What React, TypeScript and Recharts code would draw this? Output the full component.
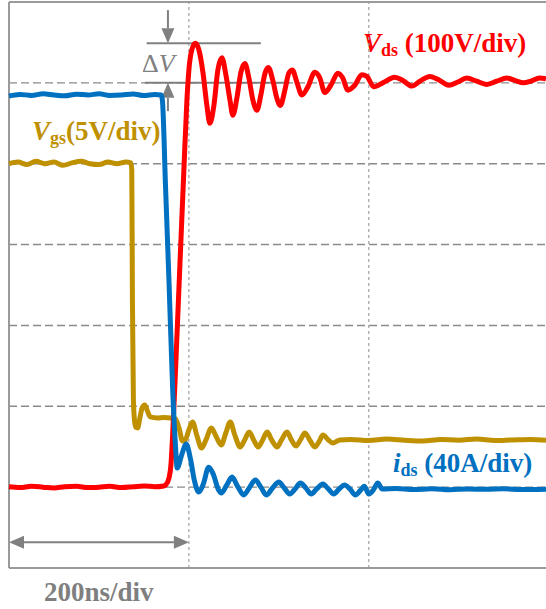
import { Line, LineChart, ReferenceLine, XAxis, YAxis } from "recharts";

// time axis in ns (200 ns/div)
const timeGrid = [200, 400];

// Vds (V), 100 V/div
const vdsTime = [
  0, 12, 25, 38, 50, 62, 75, 88, 100, 112, 125, 138, 150, 162, 172, 174.4, 177.8, 180, 182.2, 185.6, 190, 194.4,
  197.8, 200, 203.3, 207.2, 211.1, 215.6, 220, 223.3, 227.8, 232.2, 236.7, 241.1, 245.6, 248.9, 253.3, 257.8, 262.2,
  266.7, 271.1, 275.6, 280, 284.4, 288.3, 293.3, 297.8, 301.7, 306.7, 311.1, 315, 320, 325.6, 332.2, 340, 345.6, 351.1,
  357.8, 365.6, 371.1, 376.7, 384.4, 392.2, 397.8, 405.6, 415.6, 428.9, 437.8, 447.8, 456.7, 467.8, 478.9, 488.9,
  498.9, 508.9, 520, 531.1, 542.2, 553.3, 562.2, 572.2, 580, 590, 597,
];
const vdsValue = [
  0.5, -0.5, 1, 0, -1, 0.5, 1, -0.5, 0, 1, -0.5, 0.5, 1.5, 0.5, 1.5, 3, 11, 27, 71, 157, 275, 392,
  479, 516, 541, 549, 541, 513, 472, 450, 472, 516, 531, 510, 479, 460, 481, 513, 524,
  506, 479, 466, 485, 511, 519, 503, 481, 472, 491, 512, 516, 501, 485, 495, 513, 506, 488,
  497, 512, 506, 491, 497, 510, 508, 495, 500, 507, 503, 496, 502, 508, 503, 497,
  501, 506, 502, 498, 502, 506, 503, 500, 502, 506, 505,
];

// Vgs (V), 5 V/div
const vgsTime = [
  0, 10, 20, 30, 40, 50, 60, 70, 80, 90, 100, 110, 120, 130, 135.5, 136.5, 137.2, 138.3, 139.5, 141, 143, 145.5, 148,
  151, 153.5, 157, 165, 172, 180, 185, 189, 193, 196, 200, 204, 209, 214, 219, 225, 230, 236, 241, 246, 251, 257, 262,
  267, 272, 277, 282, 287, 292, 298, 303, 309, 314, 319, 324, 329, 335, 340, 345, 349, 355, 360, 368, 380, 400, 420,
  440, 460, 480, 500, 520, 540, 560, 580, 597,
];
const vgsValue = [
  15.0, 15.1, 14.95, 15.15, 15.0, 15.1, 14.9, 15.05, 15.15, 15.0, 14.95, 15.1, 15.0, 15.1, 15.05, 14.6, 6.6, 0.4, -0.85,
  -1.3, -1.34, -0.72, -0.1, 0.08, -0.23, -0.66, -0.72, -0.69, -0.72, -0.78, -1.34, -2.15, -2.08, -1.46, -0.97, -1.84,
  -2.58, -2.08, -1.34, -1.84, -2.39, -1.65, -0.97, -1.77, -2.52, -2.08, -1.59, -2.08, -2.52, -2.08, -1.59, -2.08, -2.52,
  -2.08, -1.59, -2.08, -2.45, -2.08, -1.65, -2.15, -2.52, -2.15, -1.77, -2.08, -2.27, -2.08, -2.05, -2.12, -2.02, -2.1,
  -2.15, -2.05, -2.1, -2.02, -2.12, -2.08, -2.05, -2.1,
];

// ids (A), 40 A/div
const idsTime = [
  0, 12, 25, 38, 50, 62, 75, 88, 100, 112, 125, 138, 150, 162, 169, 170.5, 174, 178, 182, 185, 187, 192, 197, 202, 206,
  211, 216, 222, 227, 233, 236, 242, 248, 254, 261, 267, 274, 280, 286, 293, 300, 306, 312, 318, 324, 330, 336, 342,
  349, 355, 361, 367, 373, 379, 385, 391, 395, 400, 405, 410, 415, 430, 450, 470, 490, 510, 530, 550, 570, 597,
];
const idsValue = [
  193.5, 194.3, 193.8, 194.6, 194, 193.6, 194.4, 194, 194.6, 193.8, 194, 194.5, 193.7, 194.3, 194, 191.5, 149, 100, 48,
  21, 9.5, 16, 21.3, 13.4, 3.5, -2.4, 1.5, 9.9, 6.5, -1.4, -2.9, 1.0, 5.0, 0.5, -3.9, -0.4, 3.5, 0, -3.9, -0.4, 2.5,
  -0.4, -3.4, -0.9, 2.0, -0.4, -3.4, -0.9, 1.5, -0.9, -3.4, -0.9, 1.0, -0.9, -3.9, -1.4, 0.5, -3.4, -1.4, 2.0, -0.9,
  -0.7, -1.2, -0.8, -1.3, -0.9, -1.1, -0.8, -1.2, -1.0,
];

const vdsGrid = [0, 100, 200, 300, 400, 500];
const vdsMin = -100;
const vdsMax = 600;
const vdsPeak = 549;
const vdsSteady = 500;

const vdsData = vdsTime.map((t, i) => ({ t, v: vdsValue[i] }));
const vgsData = vgsTime.map((t, i) => ({ t, v: vgsValue[i] }));
const idsData = idsTime.map((t, i) => ({ t, v: idsValue[i] }));

const RED = "#ff0000";
const BLUE = "#0070c0";
const GOLD = "#bf9000";
const GRAY = "#808080";
const FRAME = "#9a9a9a";
const FONT = "'Liberation Serif', 'Times New Roman', serif";

const ArrowShape = (props: any) => {
  const { x1, y1, x2, y2, both } = props;
  const dx = x2 - x1;
  const dy = y2 - y1;
  const len = Math.sqrt(dx * dx + dy * dy) || 1;
  const ux = dx / len;
  const uy = dy / len;
  const hl = 15;
  const hw = 6.5;
  const head = (tx: number, ty: number, sx: number, sy: number) => {
    const bx = tx - sx * hl;
    const by = ty - sy * hl;
    return `${tx},${ty} ${bx - sy * hw},${by + sx * hw} ${bx + sy * hw},${by - sx * hw}`;
  };
  return (
    <g>
      <line
        x1={both ? x1 + ux * hl : x1}
        y1={both ? y1 + uy * hl : y1}
        x2={x2 - ux * hl}
        y2={y2 - uy * hl}
        stroke={GRAY}
        strokeWidth={2}
      />
      <polygon points={head(x2, y2, ux, uy)} fill={GRAY} />
      {both && <polygon points={head(x1, y1, -ux, -uy)} fill={GRAY} />}
    </g>
  );
};

const App = () => {
  return (
    <div style={{ position: "absolute", left: 0, top: 0, width: 546, height: 609, background: "#fff" }}>
      <LineChart width={546} height={609} margin={{ top: 2, right: 0, left: 9, bottom: 41 }}>
        <XAxis dataKey="t" type="number" domain={[0, 597]} hide />
        <YAxis yAxisId="vds" type="number" domain={[vdsMin, vdsMax]} hide />
        <YAxis yAxisId="vgs" type="number" domain={[-10, 25]} hide />
        <YAxis yAxisId="ids" type="number" domain={[-40, 240]} hide />

        {vdsGrid.map((v) => (
          <ReferenceLine key={`h${v}`} yAxisId="vds" y={v} stroke="#8a8a8a" strokeWidth={1.4} strokeDasharray="8 4" />
        ))}
        {timeGrid.map((t) => (
          <ReferenceLine key={`v${t}`} yAxisId="vds" x={t} stroke="#a0a0a0" strokeWidth={1.2} strokeDasharray="3 3" />
        ))}
        <ReferenceLine yAxisId="vds" x={0} stroke={FRAME} strokeWidth={2} />
        <ReferenceLine yAxisId="vds" y={vdsMin} stroke={FRAME} strokeWidth={2} />
        <ReferenceLine yAxisId="vds" y={vdsMax} stroke={FRAME} strokeWidth={2} />

        <ReferenceLine
          yAxisId="vds"
          segment={[{ x: 153, y: vdsPeak }, { x: 280, y: vdsPeak }]}
          stroke={GRAY}
          strokeWidth={2}
        />
        <ReferenceLine
          yAxisId="vds"
          segment={[{ x: 151, y: vdsSteady }, { x: 312, y: vdsSteady }]}
          stroke={GRAY}
          strokeWidth={2}
        />
        <ReferenceLine
          yAxisId="vds"
          segment={[{ x: 176.7, y: 590 }, { x: 176.7, y: vdsPeak }]}
          shape={(p: any) => <ArrowShape {...p} />}
        />
        <ReferenceLine
          yAxisId="vds"
          segment={[{ x: 176.7, y: 465 }, { x: 176.7, y: vdsSteady }]}
          shape={(p: any) => <ArrowShape {...p} />}
        />
        <ReferenceLine
          yAxisId="vds"
          segment={[{ x: 0, y: -68 }, { x: 200, y: -68 }]}
          shape={(p: any) => <ArrowShape {...p} both />}
        />

        <Line
          yAxisId="vgs"
          data={vgsData}
          dataKey="v"
          type="monotone"
          stroke={GOLD}
          strokeWidth={5}
          dot={false}
          isAnimationActive={false}
        />
        <Line
          yAxisId="vds"
          data={vdsData}
          dataKey="v"
          type="monotone"
          stroke={RED}
          strokeWidth={5}
          dot={false}
          isAnimationActive={false}
        />
        <Line
          yAxisId="ids"
          data={idsData}
          dataKey="v"
          type="monotone"
          stroke={BLUE}
          strokeWidth={5}
          dot={false}
          isAnimationActive={false}
        />

        <g fontFamily={FONT}>
          <text x={142} y={72} fill={GRAY} fontSize={26}>
            Δ<tspan fontStyle="italic">V</tspan>
          </text>
          <text x={363} y={52} fill={RED} fontSize={27} fontWeight="bold">
            <tspan fontStyle="italic">V</tspan>
            <tspan fontSize={18} dy={4}>ds</tspan>
            <tspan dy={-4}> (100V/div)</tspan>
          </text>
          <text x={32} y={140} fill={GOLD} fontSize={27} fontWeight="bold">
            <tspan fontStyle="italic">V</tspan>
            <tspan fontSize={18} dy={4}>gs</tspan>
            <tspan dy={-4}>(5V/div)</tspan>
          </text>
          <text x={393} y={472} fill={BLUE} fontSize={27} fontWeight="bold">
            <tspan fontStyle="italic">i</tspan>
            <tspan fontSize={18} dy={4}>ds</tspan>
            <tspan dy={-4}> (40A/div)</tspan>
          </text>
          <text x={44} y={601} fill="#7f7f7f" fontSize={27} fontWeight="bold">
            200ns/div
          </text>
        </g>
      </LineChart>
    </div>
  );
};

export default App;
